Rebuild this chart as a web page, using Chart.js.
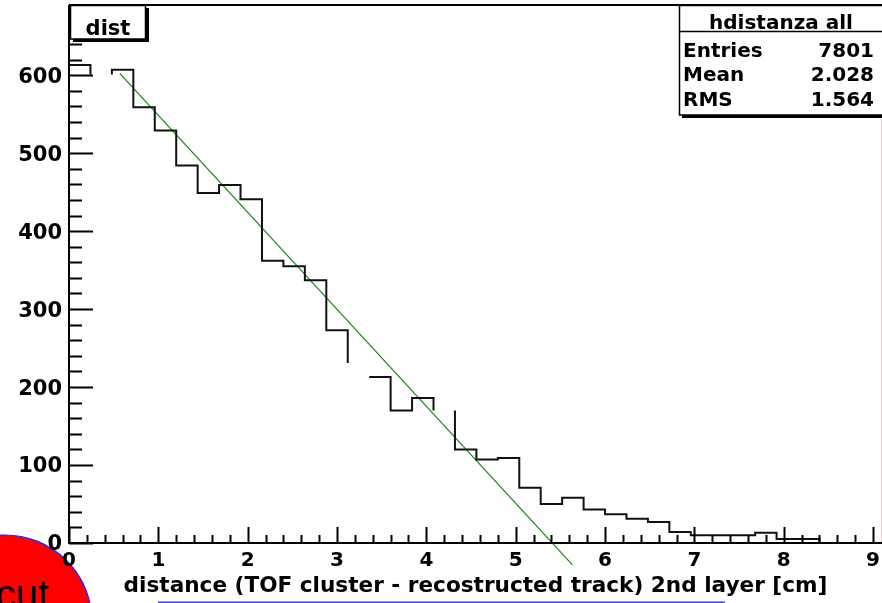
<!DOCTYPE html>
<html>
<head>
<meta charset="utf-8">
<script src="https://cdn.jsdelivr.net/npm/chart.js@4.4.0/dist/chart.umd.min.js"></script>
<style>
html, body { margin: 0; padding: 0; background: #fff; }
canvas { display: block; }
</style>
</head>
<body>
<canvas id="distChart" width="882" height="603"></canvas>
<script>
// histogram "hdistanza all", 0.24 cm bins starting at 0
const binWidth = 0.24;
const counts = [613, 601, 607, 559, 529, 484, 449, 459, 441, 362, 355, 337,
    273, 231, 213, 170, 186, 170, 120, 107, 109, 71, 50, 58, 43, 37, 31, 27,
    14, 10, 10, 10, 13, 5, 5, 0, 0, 0];
// bins whose top edge is missing in the original plot
const hiddenBins = [1, 13, 17];
const hiddenSteps = [13];

// linear fit drawn in green
const fitX = [0.57, 5.635];
const fitY = [602, -28];

const xTicks = [0, 1, 2, 3, 4, 5, 6, 7, 8, 9];
const yTicks = [0, 100, 200, 300, 400, 500, 600];

const statsTitle = 'hdistanza all';
const statsNames = ['Entries', 'Mean', 'RMS'];
const statsValues = ['7801', '2.028', '1.564'];

const FONT = "'DejaVu Sans', sans-serif";

const histPoints = [];
counts.forEach((c, i) => {
    histPoints.push({ x: i * binWidth, y: c });
    histPoints.push({ x: (i + 1) * binWidth, y: c });
});

const fitPoints = fitX.map((x, i) => ({ x: x, y: fitY[i] }));

function segColor(ctx) {
    const i = ctx.p0DataIndex;
    const bin = Math.floor(i / 2);
    if (i % 2 === 0 && hiddenBins.includes(bin)) return 'rgba(0,0,0,0)';
    if (i % 2 === 1 && hiddenSteps.includes(bin)) return 'rgba(0,0,0,0)';
    return '#111';
}

function noPad(s) {
    s.paddingTop = 0;
    s.paddingBottom = 0;
    s.paddingLeft = 0;
    s.paddingRight = 0;
}

const rootStyle = {
    id: 'rootStyle',
    beforeDraw(chart) {
        const c = chart.ctx;
        c.save();
        c.fillStyle = '#fff';
        c.fillRect(0, 0, chart.width, chart.height);
        // red bubble in the corner
        c.beginPath();
        c.arc(5, 622, 87, 0, Math.PI * 2);
        c.fillStyle = '#ff0000';
        c.fill();
        c.strokeStyle = '#2020ff';
        c.lineWidth = 1.2;
        c.stroke();
        c.fillStyle = '#000';
        c.font = "40px 'Liberation Sans', Arial, sans-serif";
        c.textAlign = 'left';
        c.textBaseline = 'alphabetic';
        c.fillText('cut', -4, 608);
        // link underline
        c.strokeStyle = '#3a3aff';
        c.lineWidth = 1.5;
        c.beginPath();
        c.moveTo(158, 602.2);
        c.lineTo(725, 602.2);
        c.stroke();
        c.restore();
    },
    afterDraw(chart) {
        const c = chart.ctx;
        const xs = chart.scales.x, ys = chart.scales.y;
        const a = chart.chartArea;
        c.save();
        c.strokeStyle = '#000';
        c.lineWidth = 2;
        c.beginPath();
        // frame: left axis, bottom axis, top line
        c.moveTo(a.left, a.top);
        c.lineTo(a.left, a.bottom);
        c.lineTo(a.right, a.bottom);
        c.moveTo(a.left, a.top);
        c.lineTo(a.right, a.top);
        // x ticks, 5 divisions
        for (let k = 0; k * 0.2 <= xs.max; k++) {
            const px = Math.round(xs.getPixelForValue(k * 0.2)) + 0.5;
            const len = k % 5 === 0 ? 16 : 8;
            c.moveTo(px, a.bottom);
            c.lineTo(px, a.bottom - len);
        }
        // y ticks, 5 divisions
        for (let k = 0; k * 20 <= ys.max; k++) {
            const py = Math.round(ys.getPixelForValue(k * 20)) + 0.5;
            const len = k % 5 === 0 ? 24 : 13;
            c.moveTo(a.left, py);
            c.lineTo(a.left + len, py);
        }
        c.stroke();

        // faint right border
        c.strokeStyle = '#f2c9d2';
        c.lineWidth = 1;
        c.beginPath();
        c.moveTo(881.5, 119);
        c.lineTo(881.5, a.bottom - 1);
        c.stroke();

        // title box
        c.fillStyle = '#fff';
        c.fillRect(70, 5, 76, 34);
        c.strokeStyle = '#000';
        c.lineWidth = 1.5;
        c.strokeRect(70.5, 5.5, 75, 33.5);
        c.fillStyle = '#000';
        c.fillRect(146, 8, 3, 34);
        c.fillRect(73, 39, 76, 3);
        c.font = 'bold 21px ' + FONT;
        c.textAlign = 'center';
        c.textBaseline = 'alphabetic';
        c.fillText('dist', 108, 35);

        // stats box
        c.fillStyle = '#fff';
        c.fillRect(679, 5, 210, 110);
        c.lineWidth = 1.5;
        c.strokeRect(679.5, 5.5, 210, 109.5);
        c.beginPath();
        c.moveTo(679, 31.5);
        c.lineTo(882, 31.5);
        c.stroke();
        c.fillStyle = '#000';
        c.fillRect(682, 115, 210, 3);
        c.font = 'bold 20px ' + FONT;
        c.textAlign = 'center';
        c.fillText(statsTitle, 781, 29);
        const rows = [57, 81, 106];
        statsNames.forEach((name, i) => {
            c.textAlign = 'left';
            c.fillText(name, 683, rows[i]);
            c.textAlign = 'right';
            c.fillText(statsValues[i], 874, rows[i]);
        });
        c.restore();
    }
};

new Chart(document.getElementById('distChart'), {
    type: 'line',
    data: {
        datasets: [{
            label: 'hdistanza all',
            data: histPoints,
            borderColor: '#111',
            borderWidth: 2,
            borderJoinStyle: 'miter',
            pointRadius: 0,
            tension: 0,
            fill: false,
            segment: { borderColor: segColor }
        }, {
            label: 'fit',
            data: fitPoints,
            borderColor: '#118811',
            borderWidth: 1.2,
            pointRadius: 0,
            tension: 0,
            fill: false,
            clip: false
        }]
    },
    options: {
        responsive: false,
        animation: false,
        devicePixelRatio: 1,
        layout: { padding: { top: 5, right: 0, left: 0, bottom: 0 } },
        plugins: {
            legend: { display: false },
            tooltip: { enabled: false }
        },
        scales: {
            x: {
                type: 'linear',
                min: 0,
                max: 9.1,
                afterFit: s => { s.height = 60; noPad(s); },
                afterBuildTicks: s => { s.ticks = xTicks.map(v => ({ value: v })); },
                grid: { display: false, drawTicks: false },
                border: { display: false },
                ticks: {
                    color: '#000',
                    padding: 6,
                    maxRotation: 0,
                    autoSkip: false,
                    font: { family: FONT, size: 20, weight: 'bold' }
                },
                title: {
                    display: true,
                    text: 'distance (TOF cluster - recostructed track) 2nd layer [cm]',
                    color: '#000',
                    font: { family: FONT, size: 21.6, weight: 'bold' },
                    padding: { top: 0, bottom: 4 }
                }
            },
            y: {
                type: 'linear',
                min: 0,
                max: 690,
                afterFit: s => { s.width = 69; noPad(s); },
                afterBuildTicks: s => { s.ticks = yTicks.map(v => ({ value: v })); },
                grid: { display: false, drawTicks: false },
                border: { display: false },
                ticks: {
                    color: '#000',
                    padding: 7,
                    labelOffset: 2,
                    font: { family: FONT, size: 21, weight: 'bold' }
                }
            }
        }
    },
    plugins: [rootStyle]
});
</script>
</body>
</html>
